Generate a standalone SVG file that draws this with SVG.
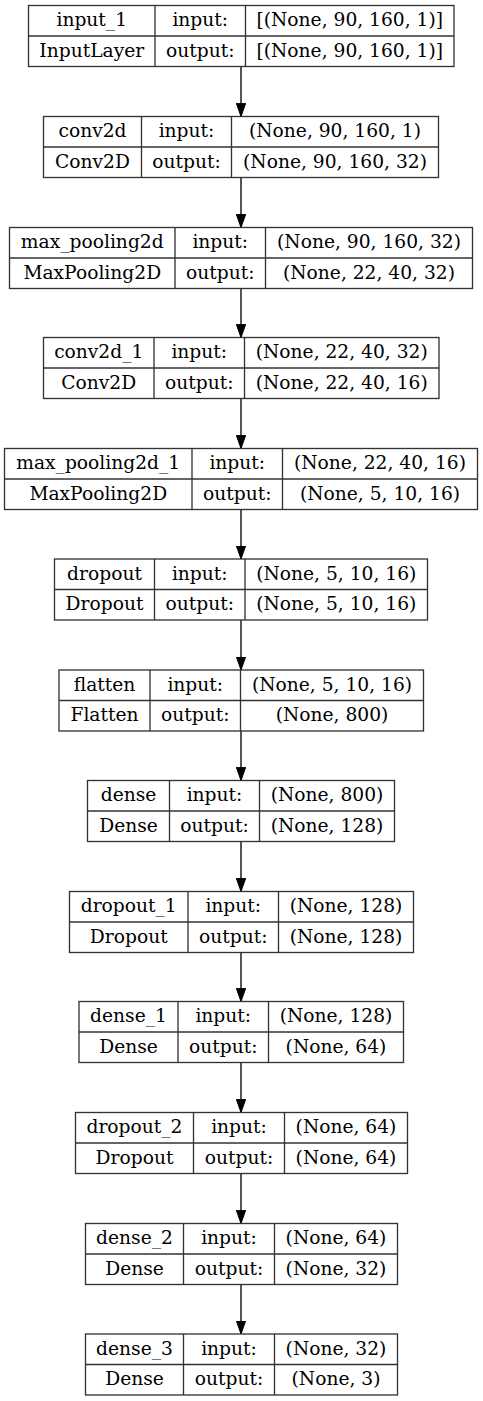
<svg xmlns="http://www.w3.org/2000/svg" width="483" height="1401" viewBox="0 0 483 1401">
<style>
.box{fill:#fff;stroke:#333;stroke-width:1.33}
.ln{stroke:#333;stroke-width:1.33;fill:none}
text{font-family:"DejaVu Serif",serif;font-size:18.67px;fill:#000;text-anchor:middle}
.edge{stroke:#000;stroke-width:1.33;fill:none}
</style>
<defs>
<marker id="ah" markerWidth="14" markerHeight="10" refX="13.3" refY="5" orient="auto" markerUnits="userSpaceOnUse">
<path d="M0,0.3 L13.3,5 L0,9.7 z" fill="#000" stroke="#000" stroke-width="1"/>
</marker>
</defs>
<rect width="483" height="1401" fill="#fff"/>
<g id="connectors">
<line class="edge" x1="241" y1="66.5" x2="241" y2="116.5" marker-end="url(#ah)"/>
<line class="edge" x1="241" y1="177.5" x2="241" y2="227.5" marker-end="url(#ah)"/>
<line class="edge" x1="241" y1="288.5" x2="241" y2="337.5" marker-end="url(#ah)"/>
<line class="edge" x1="241" y1="398.5" x2="241" y2="448.5" marker-end="url(#ah)"/>
<line class="edge" x1="241" y1="509.5" x2="241" y2="559" marker-end="url(#ah)"/>
<line class="edge" x1="241" y1="620" x2="241" y2="670" marker-end="url(#ah)"/>
<line class="edge" x1="241" y1="731" x2="241" y2="780.5" marker-end="url(#ah)"/>
<line class="edge" x1="241" y1="841.5" x2="241" y2="891.5" marker-end="url(#ah)"/>
<line class="edge" x1="241" y1="952.5" x2="241" y2="1001.5" marker-end="url(#ah)"/>
<line class="edge" x1="241" y1="1062.5" x2="241" y2="1112.5" marker-end="url(#ah)"/>
<line class="edge" x1="241" y1="1173.5" x2="241" y2="1223.5" marker-end="url(#ah)"/>
<line class="edge" x1="241" y1="1284.5" x2="241" y2="1334" marker-end="url(#ah)"/>
</g>
<g id="input_1" transform="translate(0,5.5)">
<rect class="box" x="28.5" y="0" width="425.5" height="61"/>
<path class="ln" d="M28.5,30.5H454M155,0V61M245.5,0V61"/>
<text x="91.75" y="20.75">input_1</text><text x="200.25" y="20.75">input:</text><text x="349.75" y="20.75">[(None, 90, 160, 1)]</text>
<text x="91.75" y="51.25">InputLayer</text><text x="200.25" y="51.25">output:</text><text x="349.75" y="51.25">[(None, 90, 160, 1)]</text>
</g>
<g id="conv2d" transform="translate(0,116.5)">
<rect class="box" x="43.5" y="0" width="395" height="61"/>
<path class="ln" d="M43.5,30.5H438.5M141.5,0V61M231.5,0V61"/>
<text x="92.5" y="20.75">conv2d</text><text x="186.5" y="20.75">input:</text><text x="335" y="20.75">(None, 90, 160, 1)</text>
<text x="92.5" y="51.25">Conv2D</text><text x="186.5" y="51.25">output:</text><text x="335" y="51.25">(None, 90, 160, 32)</text>
</g>
<g id="max_pooling2d" transform="translate(0,227.5)">
<rect class="box" x="9.5" y="0" width="463" height="61"/>
<path class="ln" d="M9.5,30.5H472.5M175,0V61M265.5,0V61"/>
<text x="92.25" y="20.75">max_pooling2d</text><text x="220.25" y="20.75">input:</text><text x="369" y="20.75">(None, 90, 160, 32)</text>
<text x="92.25" y="51.25">MaxPooling2D</text><text x="220.25" y="51.25">output:</text><text x="369" y="51.25">(None, 22, 40, 32)</text>
</g>
<g id="conv2d_1" transform="translate(0,337.5)">
<rect class="box" x="43.5" y="0" width="395.5" height="61"/>
<path class="ln" d="M43.5,30.5H439M154,0V61M244.5,0V61"/>
<text x="98.75" y="20.75">conv2d_1</text><text x="199.25" y="20.75">input:</text><text x="341.75" y="20.75">(None, 22, 40, 32)</text>
<text x="98.75" y="51.25">Conv2D</text><text x="199.25" y="51.25">output:</text><text x="341.75" y="51.25">(None, 22, 40, 16)</text>
</g>
<g id="max_pooling2d_1" transform="translate(0,448.5)">
<rect class="box" x="4.5" y="0" width="473" height="61"/>
<path class="ln" d="M4.5,30.5H477.5M192,0V61M282.5,0V61"/>
<text x="98.25" y="20.75">max_pooling2d_1</text><text x="237.25" y="20.75">input:</text><text x="380" y="20.75">(None, 22, 40, 16)</text>
<text x="98.25" y="51.25">MaxPooling2D</text><text x="237.25" y="51.25">output:</text><text x="380" y="51.25">(None, 5, 10, 16)</text>
</g>
<g id="dropout" transform="translate(0,559)">
<rect class="box" x="54.5" y="0" width="373" height="61"/>
<path class="ln" d="M54.5,30.5H427.5M154.5,0V61M245,0V61"/>
<text x="104.5" y="20.75">dropout</text><text x="199.75" y="20.75">input:</text><text x="336.25" y="20.75">(None, 5, 10, 16)</text>
<text x="104.5" y="51.25">Dropout</text><text x="199.75" y="51.25">output:</text><text x="336.25" y="51.25">(None, 5, 10, 16)</text>
</g>
<g id="flatten" transform="translate(0,670)">
<rect class="box" x="59" y="0" width="364.5" height="61"/>
<path class="ln" d="M59,30.5H423.5M150,0V61M240.5,0V61"/>
<text x="104.5" y="20.75">flatten</text><text x="195.25" y="20.75">input:</text><text x="332" y="20.75">(None, 5, 10, 16)</text>
<text x="104.5" y="51.25">Flatten</text><text x="195.25" y="51.25">output:</text><text x="332" y="51.25">(None, 800)</text>
</g>
<g id="dense" transform="translate(0,780.5)">
<rect class="box" x="87.5" y="0" width="307" height="61"/>
<path class="ln" d="M87.5,30.5H394.5M169.5,0V61M259.5,0V61"/>
<text x="128.5" y="20.75">dense</text><text x="214.5" y="20.75">input:</text><text x="327" y="20.75">(None, 800)</text>
<text x="128.5" y="51.25">Dense</text><text x="214.5" y="51.25">output:</text><text x="327" y="51.25">(None, 128)</text>
</g>
<g id="dropout_1" transform="translate(0,891.5)">
<rect class="box" x="69.5" y="0" width="344" height="61"/>
<path class="ln" d="M69.5,30.5H413.5M188,0V61M278.5,0V61"/>
<text x="128.75" y="20.75">dropout_1</text><text x="233.25" y="20.75">input:</text><text x="346" y="20.75">(None, 128)</text>
<text x="128.75" y="51.25">Dropout</text><text x="233.25" y="51.25">output:</text><text x="346" y="51.25">(None, 128)</text>
</g>
<g id="dense_1" transform="translate(0,1001.5)">
<rect class="box" x="79" y="0" width="324.5" height="61"/>
<path class="ln" d="M79,30.5H403.5M178,0V61M268.5,0V61"/>
<text x="128.5" y="20.75">dense_1</text><text x="223.25" y="20.75">input:</text><text x="336" y="20.75">(None, 128)</text>
<text x="128.5" y="51.25">Dense</text><text x="223.25" y="51.25">output:</text><text x="336" y="51.25">(None, 64)</text>
</g>
<g id="dropout_2" transform="translate(0,1112.5)">
<rect class="box" x="75.5" y="0" width="332" height="61"/>
<path class="ln" d="M75.5,30.5H407.5M193.5,0V61M284.5,0V61"/>
<text x="134.5" y="20.75">dropout_2</text><text x="239" y="20.75">input:</text><text x="346" y="20.75">(None, 64)</text>
<text x="134.5" y="51.25">Dropout</text><text x="239" y="51.25">output:</text><text x="346" y="51.25">(None, 64)</text>
</g>
<g id="dense_2" transform="translate(0,1223.5)">
<rect class="box" x="85.5" y="0" width="312" height="61"/>
<path class="ln" d="M85.5,30.5H397.5M183.5,0V61M274.5,0V61"/>
<text x="134.5" y="20.75">dense_2</text><text x="229" y="20.75">input:</text><text x="336" y="20.75">(None, 64)</text>
<text x="134.5" y="51.25">Dense</text><text x="229" y="51.25">output:</text><text x="336" y="51.25">(None, 32)</text>
</g>
<g id="dense_3" transform="translate(0,1334)">
<rect class="box" x="85.5" y="0" width="312" height="61"/>
<path class="ln" d="M85.5,30.5H397.5M183.5,0V61M274.5,0V61"/>
<text x="134.5" y="20.75">dense_3</text><text x="229" y="20.75">input:</text><text x="336" y="20.75">(None, 32)</text>
<text x="134.5" y="51.25">Dense</text><text x="229" y="51.25">output:</text><text x="336" y="51.25">(None, 3)</text>
</g>
</svg>
